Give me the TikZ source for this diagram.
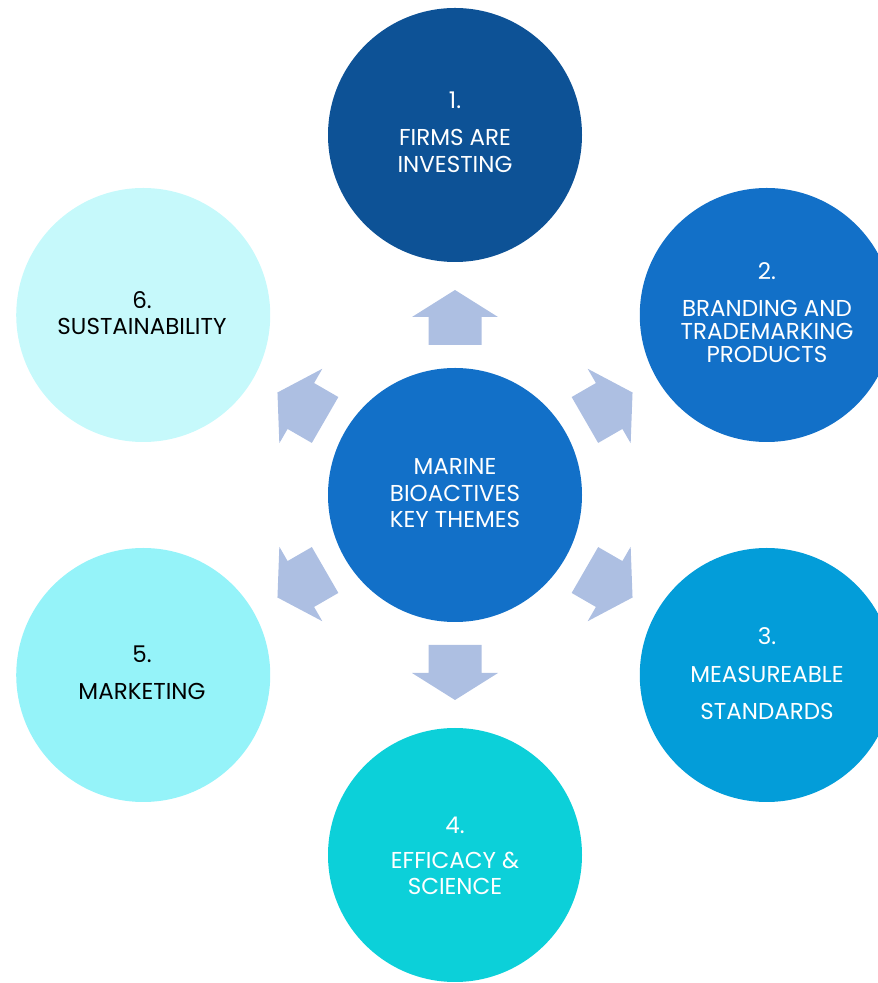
\documentclass[tikz,border=0pt]{standalone}
\usepackage{fontspec}
\setmainfont{Poppins}
\usetikzlibrary{calc}
\definecolor{cOne}{HTML}{0D5296}
\definecolor{cTwo}{HTML}{1270C8}
\definecolor{cThree}{HTML}{039DD9}
\definecolor{cFour}{HTML}{0CD0D9}
\definecolor{cFive}{HTML}{95F3F9}
\definecolor{cSix}{HTML}{C6F9FB}
\definecolor{cHub}{HTML}{1270C8}
\definecolor{cArrow}{HTML}{ADBFE2}
\begin{document}
\begin{tikzpicture}[x=1pt,y=1pt,
  bubble/.style={circle, minimum size=254pt, inner sep=0pt, draw=none},
  lab/.style={inner sep=0pt, text height=16pt, text depth=0pt, anchor=center,
              font=\fontsize{23}{26}\selectfont},
  wlab/.style={lab, text=white},
  klab/.style={lab, text=black},
  blockarrow/.style={fill=cArrow, draw=none}]
\useasboundingbox (0,0) rectangle (878,983);
\clip (0,0) rectangle (878,983);
\coordinate (C) at (455,488);
% circles
\node[bubble, fill=cHub] (hub) at (C) {};
\node[bubble, fill=cOne] (n1) at ($(C)+(90:360)$) {};
\node[bubble, fill=cTwo] (n2) at ($(C)+(30:360)$) {};
\node[bubble, fill=cThree] (n3) at ($(C)+(-30:360)$) {};
\node[bubble, fill=cFour] (n4) at ($(C)+(-90:360)$) {};
\node[bubble, fill=cFive] (n5) at ($(C)+(-150:360)$) {};
\node[bubble, fill=cSix] (n6) at ($(C)+(150:360)$) {};
% block arrows
\foreach \a in {90,30,-30,-90,-150,150}{
  \fill[blockarrow, shift={(C)}, rotate=\a]
    (150,-26.5) -- (178,-26.5) -- (178,-43) -- (205,0) -- (178,43) -- (178,26.5) -- (150,26.5) -- cycle;
}
% hub text
\node[wlab] (h1) at (455,516) {MARINE};
\node[wlab] (h2) at (455,489) {BIOACTIVES};
\node[wlab] (h3) at (455,463) {KEY THEMES};
% 1
\node[wlab] (t1a) at (455,882) {1.};
\node[wlab] (t1b) at (455,845) {FIRMS ARE};
\node[wlab] (t1c) at (455,818) {INVESTING};
% 2
\node[wlab] (t2a) at (767,711.5) {2.};
\node[wlab] (t2b) at (767,674.5) {BRANDING AND};
\node[wlab] (t2c) at (767,651) {TRADEMARKING};
\node[wlab] (t2d) at (767,628) {PRODUCTS};
% 3
\node[wlab] (t3a) at (767,346) {3.};
\node[wlab] (t3b) at (767,308) {MEASUREABLE};
\node[wlab] (t3c) at (767,271) {STANDARDS};
% 4
\node[wlab] (t4a) at (455,157) {4.};
\node[wlab] (t4b) at (455,122) {EFFICACY \&};
\node[wlab] (t4c) at (455,96) {SCIENCE};
% 5
\node[klab] (t5a) at (142,328) {5.};
\node[klab] (t5b) at (142,291) {MARKETING};
% 6
\node[klab] (t6a) at (142,682) {6.};
\node[klab] (t6b) at (142,656.5) {SUSTAINABILITY};
\end{tikzpicture}
\end{document}
